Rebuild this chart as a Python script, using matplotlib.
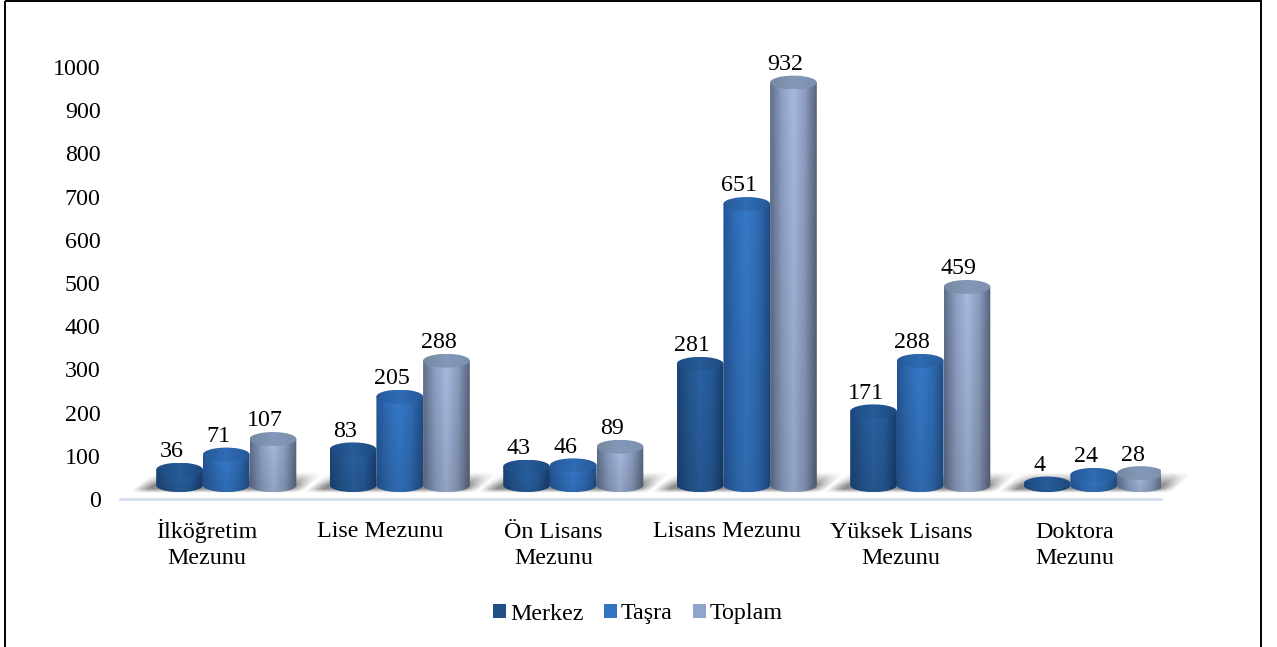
#!/usr/bin/env python3
"""Egitim durumuna gore personel sayilari - cylinder style column chart."""

import numpy as np
import matplotlib
matplotlib.use('Agg')
import matplotlib.pyplot as plt
from matplotlib.colors import LinearSegmentedColormap
from matplotlib.patches import Patch, PathPatch, Rectangle
from matplotlib.path import Path

categories = ['İlköğretim\nMezunu', 'Lise Mezunu', 'Ön Lisans\nMezunu',
              'Lisans Mezunu', 'Yüksek Lisans\nMezunu', 'Doktora\nMezunu']
series_names = ['Merkez', 'Taşra', 'Toplam']
merkez = [36, 83, 43, 281, 171, 4]
tasra = [71, 205, 46, 651, 288, 24]
toplam = [107, 288, 89, 932, 459, 28]
y_ticks = list(range(0, 1001, 100))

# side gradient (left to right) and lid colours for each series
side_stops = [
    ['#1b4577', '#24568f', '#2a62a3', '#255a97', '#173c69'],
    ['#245597', '#2f6cb5', '#3679c8', '#2f6cb5', '#1f4d85'],
    ['#5f6d8a', '#8d9fc2', '#a6bbe0', '#8b9cbd', '#56627b'],
]
lid_stops = [
    ['#1d4a7e', '#265c9a', '#1d4a7e'],
    ['#27599a', '#2f6cb4', '#27599a'],
    ['#76899f', '#8499ba', '#7c8fae'],
]
legend_colors = ['#234f87', '#3474c0', '#90a5cb']

W, H = 1277, 647
FONT = 'Liberation Serif'
FS = 17.3

# plot area in pixels
LEFT, RIGHT, Y0, Y1000 = 120, 1161, 499, 67
BAR_W = 46.7 / 173.5      # in category units
SHIFT = 19.5 / 173.5      # the columns sit off-centre, pseudo 3D
BASE = 32                 # floor height in value units
LID = 16                  # half height of a lid in value units


def draw_shadow(ax, x):
    """Soft grey floor shadow under one group."""
    px = 1 / 173.5
    u = np.linspace(-105, 105, 210)
    v = np.linspace(0, 1, 40)
    uu, vv = np.meshgrid(u, v)
    # sheared edges, v=0 is the front edge
    left = -98 + 26 * vv
    right = 76 + 24 * vv
    edge = np.clip(np.minimum(uu - left, right - uu) / 16, 0, 1)
    alpha = edge * 0.78 * np.clip(vv * 5, 0, 1) * np.clip((1 - vv) * 1.6, 0, 1)
    img = np.zeros((40, 210, 4))
    img[..., :3] = 0.42
    img[..., 3] = alpha
    ax.imshow(img, origin='lower', aspect='auto', zorder=1, clip_on=False,
              extent=(x + SHIFT - 105 * px, x + SHIFT + 105 * px, 14, 62))


def gradient_image(stops, shade=1.0):
    """Left to right colour ramp, darkening a little towards the lower edge."""
    cmap = LinearSegmentedColormap.from_list('ramp', stops)
    ramp = cmap(np.linspace(0, 1, 128))[None, :, :3]
    fade = np.linspace(shade, 1, 64)[:, None, None]
    return ramp * fade


def draw_cylinder(ax, x, value, stops, lid):
    top = BASE + value
    half = BAR_W / 2
    t = np.linspace(0, np.pi, 60)

    xs = np.concatenate([[x - half, x + half], x + half * np.cos(t)])
    ys = np.concatenate([[top, top], BASE - LID * np.sin(t)])
    side = PathPatch(Path(np.column_stack([xs, ys])), fc='none', ec='none',
                     transform=ax.transData)
    ax.add_patch(side)
    im = ax.imshow(gradient_image(stops, 0.88), origin='lower', aspect='auto',
                   extent=(x - half, x + half, BASE - LID, top), zorder=2)
    im.set_clip_path(side)
    im.set_clip_box(None)

    lid_x = x + half * np.cos(2 * t)
    lid_y = top + LID * np.sin(2 * t)
    cap = PathPatch(Path(np.column_stack([lid_x, lid_y])), fc='none', ec='none',
                    transform=ax.transData)
    ax.add_patch(cap)
    im = ax.imshow(gradient_image(lid), origin='lower', aspect='auto', zorder=2,
                   extent=(x - half, x + half, top - LID, top + LID))
    im.set_clip_path(cap)
    im.set_clip_box(None)


def main():
    plt.rcParams['font.family'] = FONT
    fig = plt.figure(figsize=(W / 100, H / 100), dpi=100)
    ax = fig.add_axes([LEFT / W, 1 - Y0 / H, (RIGHT - LEFT) / W, (Y0 - Y1000) / H])

    # frame: the lower edge is cut off in the source image
    fig.add_artist(Rectangle((5 / W, 1 - 1 / H), 1256 / W, -(H + 8) / H,
                             transform=fig.transFigure, fc='none', ec='black', lw=1.4))

    groups = np.arange(len(categories))
    for x in groups:
        draw_shadow(ax, x + 0.5)

    all_series = [merkez, tasra, toplam]
    for i, values in enumerate(all_series):
        offset = (i - 1) * BAR_W + SHIFT
        for x, v in zip(groups, values):
            cx = x + 0.5 + offset
            draw_cylinder(ax, cx, v, side_stops[i], lid_stops[i])
            ax.annotate(str(v), (cx, BASE + v + LID), xytext=(-8 * 0.72, 4.0),
                        textcoords='offset points', ha='center', va='baseline',
                        fontsize=FS, color='black', zorder=5)

    ax.set_xlim(0, len(categories))
    ax.set_ylim(0, 1000)
    ax.patch.set_alpha(0)
    for name in ['top', 'left', 'right']:
        ax.spines[name].set_visible(False)
    ax.spines['bottom'].set_color('#d6dff0')
    ax.spines['bottom'].set_linewidth(2)

    ax.set_yticks(y_ticks)
    ax.set_xticks(groups + 0.5)
    ax.set_xticklabels(categories, linespacing=1.26)
    ax.tick_params(axis='y', length=0, pad=14, labelsize=FS)
    ax.tick_params(axis='x', length=0, labelsize=FS)
    # anchor category labels on their last baseline
    for tick, label in zip(ax.xaxis.get_major_ticks(), categories):
        tick.label1.set_verticalalignment('baseline')
        tick.set_pad(46.5 if '\n' in label else 27.5)

    handles = [Patch(fc=c, ec='none', label=n) for c, n in zip(legend_colors, series_names)]
    fig.legend(handles=handles, loc='center', bbox_to_anchor=(638 / W, 1 - 614 / H), ncol=3,
               frameon=False, fontsize=FS, handlelength=0.55, handleheight=0.55,
               handletextpad=0.15, columnspacing=0.85)

    fig.savefig('out.png', dpi=100, facecolor='white')


if __name__ == '__main__':
    main()
